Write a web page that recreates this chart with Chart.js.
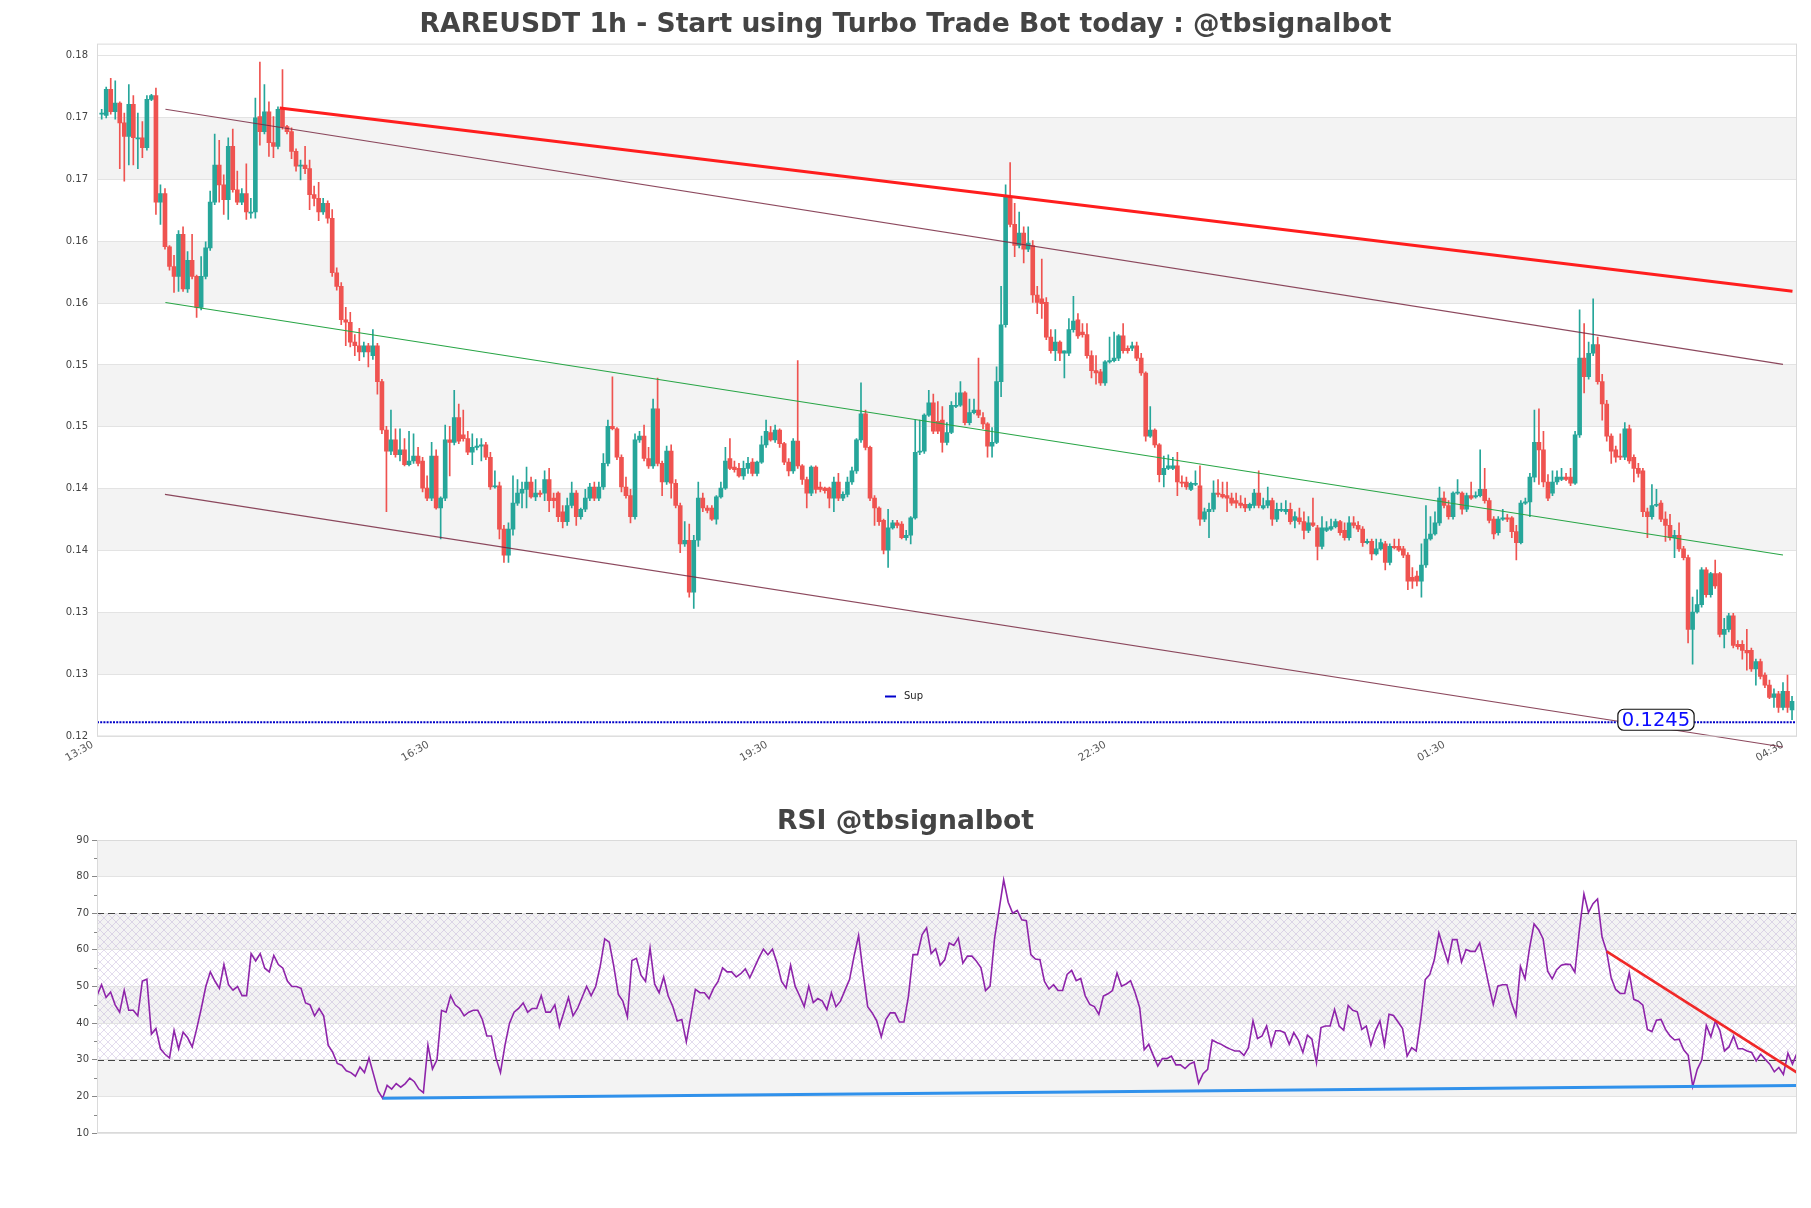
<!DOCTYPE html>
<html>
<head>
<meta charset="utf-8">
<script src="https://cdn.jsdelivr.net/npm/chart.js@4.4.1/dist/chart.umd.min.js"></script>
<style>
html,body{margin:0;padding:0;background:#fff;}
#wrap{position:relative;width:1811px;height:1208px;overflow:hidden;background:#fff;}
#c1{position:absolute;left:0;top:0;}
#c2{position:absolute;left:0;top:790px;}
</style>
</head>
<body>
<div id="wrap">
<canvas id="c1" width="1811" height="800"></canvas>
<canvas id="c2" width="1811" height="418"></canvas>
</div>
<script>
// ---------------- DATA ----------------
const opens = [
.1736,.1735,.1756,.1738,.1745,.1729,.1718,.1744,.1716,.1717,
.1709,.1748,.1751,.1665,.1672,.1629,.1613,.1605,.1639,.1595,
.1618,.1605,.1580,.1605,.1628,.1665,.1695,.1679,.1667,.1710,
.1675,.1665,.1672,.1656,.1657,.1734,.1722,.1738,.1713,.1710,
.1740,.1726,.1722,.1706,.1694,.1695,.1692,.1671,.1668,.1657,
.1664,.1652,.1608,.1597,.1570,.1568,.1552,.1549,.1544,.1549,
.1541,.1549,.1520,.1481,.1464,.1473,.1461,.1465,.1453,.1456,
.1460,.1456,.1434,.1426,.1460,.1418,.1426,.1473,.1471,.1491,
.1477,.1474,.1463,.1467,.1468,.1469,.1459,.1435,.1436,.1401,
.1380,.1401,.1422,.1430,.1433,.1439,.1427,.1430,.1430,.1441,
.1426,.1430,.1415,.1407,.1420,.1430,.1411,.1417,.1426,.1435,
.1426,.1435,.1454,.1484,.1482,.1459,.1435,.1428,.1411,.1473,
.1476,.1458,.1452,.1498,.1454,.1439,.1464,.1438,.1420,.1389,
.1392,.1350,.1392,.1426,.1418,.1418,.1409,.1427,.1434,.1458,
.1451,.1450,.1444,.1450,.1455,.1446,.1455,.1469,.1479,.1473,
.1481,.1470,.1455,.1448,.1472,.1452,.1441,.1430,.1451,.1435,
.1434,.1434,.1426,.1439,.1426,.1429,.1439,.1448,.1473,.1494,
.1467,.1426,.1418,.1408,.1384,.1402,.1406,.1405,.1394,.1396,
.1410,.1463,.1464,.1493,.1503,.1488,.1489,.1471,.1479,.1500,
.1501,.1511,.1487,.1495,.1497,.1491,.1486,.1468,.1471,.1520,
.1566,.1669,.1647,.1630,.1640,.1627,.1630,.1590,.1587,.1584,
.1556,.1545,.1552,.1543,.1543,.1562,.1570,.1560,.1558,.1541,
.1529,.1528,.1519,.1536,.1537,.1539,.1557,.1547,.1547,.1549,
.1539,.1527,.1476,.1481,.1469,.1445,.1450,.1450,.1452,.1439,
.1439,.1433,.1437,.1436,.1409,.1415,.1417,.1430,.1429,.1428,
.1426,.1424,.1422,.1421,.1418,.1420,.1430,.1418,.1420,.1424,
.1409,.1416,.1415,.1417,.1408,.1410,.1407,.1400,.1406,.1402,
.1387,.1400,.1401,.1403,.1407,.1400,.1394,.1406,.1404,.1401,
.1390,.1391,.1381,.1385,.1389,.1374,.1387,.1387,.1385,.1380,
.1362,.1363,.1359,.1372,.1393,.1397,.1406,.1426,.1420,.1411,
.1430,.1430,.1417,.1428,.1427,.1428,.1433,.1424,.1409,.1398,
.1409,.1410,.1410,.1399,.1390,.1422,.1423,.1443,.1471,.1465,
.1439,.1430,.1439,.1441,.1443,.1443,.1438,.1477,.1539,.1524,
.1543,.1550,.1520,.1502,.1476,.1465,.1460,.1459,.1482,.1459,
.1450,.1448,.1415,.1411,.1420,.1422,.1409,.1404,.1394,.1396,
.1385,.1378,.1320,.1334,.1340,.1368,.1348,.1365,.1365,.1316,
.1320,.1331,.1308,.1308,.1303,.1303,.1288,.1294,.1283,.1275,
.1265,.1268,.1257,.1270,.1255];

const highs = [
.1740,.1758,.1765,.1763,.1746,.1737,.1760,.1751,.1737,.1730,
.1751,.1752,.1757,.1679,.1676,.1630,.1622,.1642,.1645,.1625,
.1639,.1606,.1621,.1633,.1674,.1720,.1715,.1687,.1717,.1724,
.1690,.1676,.1696,.1668,.1749,.1778,.1760,.1746,.1734,.1742,
.1772,.1727,.1725,.1708,.1699,.1710,.1699,.1678,.1681,.1668,
.1666,.1659,.1612,.1600,.1580,.1576,.1558,.1563,.1552,.1551,
.1562,.1551,.1522,.1484,.1497,.1482,.1482,.1474,.1480,.1478,
.1467,.1459,.1444,.1471,.1465,.1427,.1485,.1484,.1513,.1502,
.1497,.1480,.1478,.1474,.1474,.1471,.1463,.1448,.1439,.1404,
.1406,.1444,.1441,.1439,.1451,.1443,.1441,.1432,.1448,.1450,
.1430,.1431,.1420,.1426,.1439,.1432,.1418,.1433,.1438,.1439,
.1439,.1462,.1489,.1524,.1483,.1461,.1443,.1433,.1478,.1480,
.1485,.1467,.1506,.1523,.1456,.1468,.1469,.1441,.1422,.1407,
.1405,.1396,.1439,.1430,.1420,.1420,.1428,.1439,.1467,.1474,
.1456,.1454,.1456,.1459,.1458,.1456,.1476,.1489,.1484,.1485,
.1482,.1471,.1458,.1474,.1537,.1453,.1443,.1452,.1452,.1439,
.1435,.1435,.1443,.1446,.1431,.1443,.1451,.1474,.1519,.1497,
.1468,.1428,.1419,.1409,.1417,.1408,.1408,.1407,.1400,.1411,
.1489,.1489,.1494,.1513,.1510,.1504,.1500,.1487,.1504,.1511,
.1520,.1512,.1506,.1506,.1539,.1495,.1487,.1483,.1532,.1597,
.1679,.1697,.1664,.1657,.1645,.1645,.1634,.1597,.1619,.1588,
.1562,.1562,.1553,.1545,.1571,.1589,.1575,.1567,.1567,.1545,
.1541,.1530,.1537,.1556,.1560,.1558,.1567,.1549,.1552,.1552,
.1543,.1528,.1500,.1482,.1470,.1460,.1461,.1459,.1463,.1444,
.1443,.1439,.1448,.1452,.1418,.1422,.1440,.1441,.1439,.1439,
.1430,.1430,.1428,.1426,.1422,.1433,.1448,.1426,.1435,.1426,
.1422,.1422,.1424,.1422,.1415,.1418,.1415,.1411,.1426,.1404,
.1411,.1407,.1409,.1409,.1408,.1406,.1411,.1411,.1407,.1403,
.1393,.1393,.1393,.1393,.1391,.1389,.1393,.1393,.1387,.1382,
.1370,.1367,.1389,.1420,.1411,.1415,.1435,.1431,.1424,.1431,
.1441,.1431,.1430,.1439,.1431,.1465,.1450,.1426,.1411,.1411,
.1417,.1413,.1411,.1404,.1424,.1426,.1446,.1497,.1498,.1480,
.1445,.1448,.1448,.1450,.1446,.1450,.1480,.1578,.1567,.1552,
.1587,.1556,.1526,.1505,.1478,.1468,.1478,.1487,.1485,.1461,
.1454,.1450,.1418,.1437,.1433,.1424,.1415,.1413,.1400,.1406,
.1387,.1380,.1346,.1352,.1370,.1370,.1366,.1376,.1366,.1329,
.1333,.1333,.1311,.1311,.1320,.1305,.1296,.1296,.1285,.1279,
.1272,.1270,.1277,.1283,.1266];

const lows = [
.1732,.1733,.1736,.1732,.1692,.1682,.1695,.1695,.1692,.1701,
.1707,.1747,.1655,.1647,.1627,.1610,.1592,.1593,.1593,.1592,
.1603,.1572,.1578,.1603,.1626,.1663,.1665,.1655,.1651,.1673,
.1663,.1663,.1651,.1652,.1652,.1711,.1720,.1702,.1701,.1708,
.1724,.1720,.1700,.1690,.1683,.1688,.1659,.1662,.1650,.1655,
.1648,.1605,.1594,.1566,.1549,.1548,.1541,.1537,.1540,.1532,
.1538,.1510,.1478,.1415,.1461,.1459,.1456,.1452,.1452,.1454,
.1452,.1431,.1424,.1424,.1417,.1393,.1424,.1444,.1469,.1470,
.1472,.1461,.1453,.1465,.1456,.1457,.1433,.1434,.1393,.1374,
.1374,.1396,.1420,.1418,.1418,.1426,.1424,.1427,.1424,.1415,
.1418,.1407,.1402,.1404,.1418,.1404,.1409,.1415,.1424,.1424,
.1424,.1433,.1452,.1481,.1457,.1431,.1426,.1406,.1409,.1471,
.1456,.1450,.1450,.1452,.1428,.1437,.1426,.1418,.1382,.1387,
.1346,.1337,.1387,.1415,.1414,.1408,.1405,.1426,.1433,.1449,
.1447,.1443,.1441,.1446,.1444,.1444,.1454,.1467,.1472,.1471,
.1467,.1453,.1444,.1446,.1450,.1437,.1418,.1428,.1430,.1431,
.1430,.1418,.1415,.1424,.1424,.1427,.1437,.1446,.1471,.1465,
.1424,.1404,.1404,.1381,.1370,.1401,.1402,.1393,.1392,.1389,
.1409,.1461,.1462,.1492,.1478,.1478,.1463,.1469,.1478,.1499,
.1500,.1485,.1485,.1494,.1491,.1482,.1459,.1459,.1470,.1508,
.1564,.1645,.1621,.1628,.1616,.1625,.1584,.1575,.1571,.1554,
.1543,.1537,.1537,.1523,.1541,.1560,.1555,.1556,.1539,.1523,
.1518,.1517,.1517,.1535,.1536,.1537,.1543,.1543,.1545,.1537,
.1525,.1472,.1475,.1467,.1439,.1435,.1449,.1449,.1428,.1435,
.1433,.1432,.1436,.1404,.1407,.1394,.1415,.1427,.1426,.1415,
.1420,.1418,.1418,.1415,.1416,.1418,.1418,.1417,.1418,.1404,
.1407,.1415,.1413,.1405,.1402,.1405,.1393,.1398,.1403,.1376,
.1385,.1399,.1400,.1402,.1396,.1392,.1392,.1402,.1399,.1387,
.1389,.1376,.1380,.1384,.1368,.1372,.1385,.1383,.1378,.1352,
.1353,.1355,.1346,.1370,.1392,.1396,.1404,.1418,.1409,.1409,
.1429,.1413,.1415,.1425,.1426,.1427,.1422,.1406,.1393,.1396,
.1408,.1407,.1394,.1376,.1389,.1421,.1411,.1439,.1437,.1435,
.1424,.1428,.1437,.1440,.1440,.1436,.1437,.1475,.1511,.1522,
.1541,.1518,.1489,.1472,.1454,.1455,.1457,.1457,.1454,.1439,
.1443,.1411,.1394,.1409,.1419,.1407,.1391,.1392,.1378,.1383,
.1376,.1309,.1292,.1333,.1338,.1346,.1346,.1353,.1314,.1305,
.1318,.1305,.1304,.1296,.1287,.1286,.1275,.1280,.1273,.1264,
.1257,.1253,.1255,.1253,.1247];

const closes = [
.1737,.1756,.1738,.1745,.1729,.1718,.1744,.1717,.1717,.1709,
.1748,.1751,.1665,.1672,.1629,.1613,.1605,.1639,.1595,.1618,
.1605,.1580,.1605,.1628,.1665,.1695,.1679,.1667,.1710,.1675,
.1665,.1672,.1657,.1657,.1733,.1722,.1738,.1713,.1710,.1740,
.1726,.1722,.1706,.1694,.1695,.1692,.1671,.1668,.1657,.1664,
.1652,.1608,.1597,.1570,.1568,.1552,.1549,.1544,.1549,.1544,
.1549,.1520,.1481,.1464,.1473,.1461,.1465,.1453,.1456,.1460,
.1454,.1434,.1426,.1460,.1418,.1426,.1473,.1471,.1491,.1472,
.1474,.1463,.1467,.1468,.1469,.1459,.1435,.1436,.1401,.1380,
.1401,.1422,.1430,.1433,.1439,.1427,.1430,.1429,.1441,.1424,
.1424,.1411,.1407,.1420,.1430,.1411,.1417,.1426,.1435,.1426,
.1435,.1454,.1484,.1482,.1459,.1435,.1428,.1411,.1473,.1476,
.1458,.1452,.1498,.1454,.1439,.1464,.1438,.1420,.1389,.1392,
.1350,.1392,.1426,.1418,.1416,.1409,.1427,.1434,.1456,.1450,
.1449,.1444,.1450,.1454,.1446,.1455,.1469,.1480,.1473,.1481,
.1470,.1455,.1448,.1472,.1452,.1441,.1430,.1451,.1433,.1433,
.1432,.1426,.1439,.1426,.1429,.1439,.1448,.1473,.1494,.1467,
.1426,.1418,.1407,.1384,.1402,.1406,.1404,.1394,.1396,.1410,
.1463,.1464,.1493,.1503,.1480,.1480,.1471,.1479,.1501,.1501,
.1511,.1487,.1495,.1497,.1493,.1486,.1468,.1471,.1520,.1566,
.1669,.1647,.1630,.1640,.1627,.1632,.1590,.1584,.1583,.1556,
.1545,.1552,.1543,.1545,.1562,.1569,.1557,.1558,.1541,.1529,
.1527,.1519,.1536,.1537,.1539,.1557,.1545,.1545,.1549,.1539,
.1527,.1476,.1481,.1469,.1445,.1450,.1452,.1452,.1439,.1438,
.1435,.1438,.1438,.1409,.1415,.1417,.1430,.1429,.1427,.1426,
.1422,.1422,.1420,.1418,.1421,.1430,.1420,.1420,.1424,.1409,
.1417,.1417,.1417,.1407,.1411,.1407,.1400,.1406,.1404,.1387,
.1402,.1402,.1403,.1407,.1398,.1394,.1406,.1404,.1401,.1390,
.1391,.1381,.1385,.1390,.1374,.1387,.1386,.1384,.1380,.1359,
.1359,.1359,.1372,.1393,.1397,.1406,.1426,.1420,.1411,.1430,
.1430,.1417,.1428,.1426,.1428,.1433,.1424,.1408,.1397,.1409,
.1410,.1409,.1399,.1390,.1422,.1423,.1443,.1471,.1465,.1439,
.1426,.1439,.1443,.1443,.1441,.1438,.1477,.1539,.1524,.1543,
.1550,.1520,.1502,.1476,.1464,.1459,.1459,.1482,.1456,.1450,
.1446,.1415,.1411,.1420,.1421,.1409,.1404,.1394,.1396,.1385,
.1378,.1320,.1334,.1340,.1368,.1348,.1365,.1355,.1316,.1320,
.1331,.1307,.1306,.1303,.1301,.1288,.1294,.1282,.1275,.1265,
.1268,.1257,.1270,.1257,.1262];

const rsiValues = [
47.5,50.5,47,48.5,45,43,49,43.5,43.5,42,
51.5,52,37,38.5,33,31.5,30.5,38,33,37.5,
36,33.5,38.5,44,50,54,51.5,49.5,56,50.5,
49,50,47.5,47.5,59,57,59,55,54,58.5,
56,55,51.5,50,50,49.5,45.5,45,42,44,
42,34,32,29,28.5,27,26.5,25.5,28,26.5,
30.5,26,21.5,19.5,23,22,23.5,22.5,23.5,25,
24,22,21,34,27.5,30,43.5,43,47.5,45,
44,42,43,43.5,43.5,41,36.5,36.5,30.5,26.5,
34,40,43,44,45.5,43,44,44,47.5,43,
43,45,39,43,47,42,44,47,50,47.5,
50,
55.5,63.0,62.1,55.5,47.8,46.0,41.7,57.1,57.7,53.1,
51.4,60.5,50.7,48.3,52.6,47.4,44.6,40.6,41.0,34.9,
41.9,49.2,48.3,48.3,46.7,49.5,51.4,55.1,54.0,54.0,
52.6,53.5,54.8,52.4,55.1,57.8,60.2,58.7,60.2,56.4,
51.4,49.6,55.8,50.1,47.4,44.5,50.1,45.6,46.7,46.0,
43.7,48.3,44.5,46.0,49.0,51.9,58.3,63.9,53.7,44.5,
42.8,40.6,36.3,41.0,42.8,42.8,40.3,40.3,47.4,58.7,
58.7,64.1,66.0,59.0,60.3,55.8,57.3,61.9,61.2,63.2,
56.4,58.3,58.3,56.9,55.1,48.9,50.1,63.2,71.0,79.1,
73.0,70.0,70.8,68.2,68.0,58.7,57.5,57.3,51.4,49.3,
50.5,48.9,48.9,53.3,54.4,51.6,52.2,47.4,45.1,44.5,
42.4,47.4,48.0,48.9,53.7,50.1,50.7,51.6,48.3,44.2,
32.7,34.2,31.2,28.3,30.3,30.3,31.0,28.6,28.6,27.6,
28.8,29.4,23.6,26.2,27.4,35.4,34.7,
34.2,33.5,32.9,32.4,32.4,31.2,33.3,40.6,35.8,36.5,
39.2,33.8,37.9,37.9,37.4,34.2,37.4,35.4,32.0,36.7,
35.6,29.2,38.8,39.2,39.2,43.7,39.2,38.1,44.8,43.5,
43.1,38.3,39.2,33.9,37.9,40.6,34.0,42.4,42.1,40.3,
38.5,31.0,33.3,32.4,41.0,51.9,53.3,57.3,64.6,60.5,
56.6,62.8,62.8,56.7,60.1,59.6,59.6,61.9,56.4,50.5,
45.1,50.1,50.5,50.5,45.6,42.1,55.5,52.1,60.5,67.1,
65.5,63.0,54.2,52.1,54.6,55.8,56.1,56.0,53.9,65.5,
75.3,70.2,72.6,73.9,63.5,59.6,52.4,49.2,48.1,48.1,
53.7,46.5,46.0,44.9,38.3,37.7,40.8,41.0,38.3,36.5,
35.4,35.6,32.7,31.2,22.7,27.4,29.9,39.4,36.3,40.6,
37.9,32.4,33.5,36.5,33.0,33.0,32.4,32.0,29.7,31.5,
30.1,28.8,26.7,27.9,26.0,31.8,28.8,31.8];

// axis ticks
const yTickValues = [0.12335,0.12835,0.13335,0.13835,0.14335,0.14835,0.15335,0.15835,0.16335,0.16835,0.17335,0.17835];
const yTickLabels = ['0.12','0.13','0.13','0.14','0.14','0.15','0.15','0.16','0.16','0.17','0.17','0.18'];
const xTickIndex = [-2.0, 72.3, 147.2, 222.1, 297.1, 372.0];
const xTickLabels = ['13:30','16:30','19:30','22:30','01:30','04:30'];
const rsiTicks = [10,20,30,40,50,60,70,80,90];

// levels and trend lines (index, value)
const supLevel = 0.1245;
const resistanceLine = [[39.4,0.1741],[374.1,0.1593]];
const channelUpper = [[14.1,0.1740],[372.0,0.1534]];
const channelMiddle = [[14.1,0.1584],[372.0,0.1380]];
const channelLower = [[14.0,0.1429],[372.0,0.1225]];
const rsiSupportLine = [[63,19.5],[375,23.0]];
const rsiResistanceLine = [[333,59.6],[375,26.5]];
const rsiUpper = 70, rsiLower = 30;

// ---------------- CHART 1 ----------------
Chart.defaults.font.family = '"DejaVu Sans", sans-serif';
Chart.defaults.font.size = 10;
Chart.defaults.color = '#444';

const GREEN = '#26a69a', RED = '#ef5350';
const candleColors = opens.map((o,i) => closes[i] >= o ? GREEN : RED);
const pts = arr => arr.map(p => ({x:p[0], y:p[1]}));

const mainPlugin = {
  id: 'mainDecor',
  beforeDraw(chart) {
    const {ctx, chartArea:a, scales:{y}} = chart;
    ctx.save();
    ctx.fillStyle = '#f3f3f3';
    for (let k = 1; k + 1 < yTickValues.length; k += 2) {
      const t = y.getPixelForValue(yTickValues[k+1]);
      const b = y.getPixelForValue(yTickValues[k]);
      ctx.fillRect(a.left, t, a.right - a.left, b - t);
    }
    ctx.restore();
  },
  afterDraw(chart) {
    const {ctx, chartArea:a, scales:{x, y}} = chart;
    ctx.save();
    ctx.strokeStyle = '#dadada'; ctx.lineWidth = 1;
    ctx.strokeRect(a.left + 0.5, a.top + 0.5, a.right - a.left - 1, a.bottom - a.top - 1);
    // level label
    const px = x.getPixelForValue(343.9), py = y.getPixelForValue(supLevel) - 2.5;
    ctx.font = '19.5px "DejaVu Sans"';
    const txt = supLevel.toFixed(4);
    const w = ctx.measureText(txt).width + 8, h = 21;
    ctx.beginPath();
    ctx.roundRect(px - w/2, py - h/2, w, h, 6);
    ctx.fillStyle = '#fff'; ctx.fill();
    ctx.strokeStyle = '#111'; ctx.lineWidth = 1.2; ctx.stroke();
    ctx.fillStyle = '#0a0aff'; ctx.textAlign = 'center'; ctx.textBaseline = 'middle';
    ctx.fillText(txt, px, py + 1);
    // legend
    const ly = a.bottom - 40;
    ctx.strokeStyle = '#0000cc'; ctx.lineWidth = 2;
    ctx.beginPath(); ctx.moveTo(a.left + 788, ly); ctx.lineTo(a.left + 799, ly); ctx.stroke();
    ctx.font = '10px "DejaVu Sans"'; ctx.fillStyle = '#222'; ctx.textAlign = 'left';
    ctx.fillText('Sup', a.left + 807, ly);
    ctx.restore();
  }
};

const lineDs = (arr, color, width, extra) => Object.assign({
  type:'line', data: pts(arr), borderColor: color, borderWidth: width,
  pointRadius: 0, fill: false, tension: 0, order: 0
}, extra || {});

new Chart(document.getElementById('c1'), {
  type: 'bar',
  data: {
    datasets: [
      lineDs([[-1.04, supLevel],[375.1, supLevel]], '#0000c8', 2.2, {borderDash:[2,1.2]}),
      lineDs(resistanceLine, '#ff1e1e', 3),
      lineDs(channelUpper, 'rgba(120,40,65,0.85)', 1.2),
      lineDs(channelMiddle, 'rgb(40,165,70)', 1.1),
      lineDs(channelLower, 'rgba(120,40,65,0.85)', 1.2, {clip: false}),
      { type:'bar', data: opens.map((o,i) => ({x:i, y:[o, closes[i]]})),
        backgroundColor: candleColors, borderWidth: 0, barThickness: 4, minBarLength: 1,
        grouped: false, order: 1 },
      { type:'bar', data: lows.map((l,i) => ({x:i, y:[l, highs[i]]})),
        backgroundColor: candleColors, borderWidth: 0, barThickness: 1,
        grouped: false, order: 2 }
    ]
  },
  options: {
    responsive: false, animation: false, devicePixelRatio: 1,
    layout: { padding: { left: 14, right: 14, top: 0, bottom: 0 } },
    plugins: {
      legend: { display: false }, tooltip: { enabled: false },
      title: { display: true, text: 'RAREUSDT 1h - Start using Turbo Trade Bot today : @tbsignalbot',
        font: { size: 26.6, weight: 'bold', family: '"DejaVu Sans"' }, color: '#444',
        padding: { top: 9.3, bottom: 2.4 } }
    },
    scales: {
      x: {
        type: 'linear', min: -1.04, max: 375.1, offset: false,
        grid: { display: false, offset: false },
        border: { display: false },
        afterBuildTicks: s => { s.ticks = xTickIndex.map(v => ({value: v})); },
        ticks: { autoSkip: false, maxRotation: 30, minRotation: 30, padding: -6, color: '#555',
                 font: { size: 10.5 }, callback: (v, i) => xTickLabels[i] },
        afterFit: s => { s.height = 63.5; }
      },
      y: {
        min: 0.12335, max: 0.1793,
        afterBuildTicks: s => { s.ticks = yTickValues.map(v => ({value: v})); },
        ticks: { color: '#444', font: { size: 10 }, padding: 9, callback: (v, i) => yTickLabels[i] },
        grid: { color: '#e3e3e3', drawTicks: false },
        border: { display: false },
        afterFit: s => { s.width = 83; }
      }
    }
  },
  plugins: [mainPlugin]
});

// ---------------- CHART 2 (RSI) ----------------
const rsiPlugin = {
  id: 'rsiDecor',
  beforeDraw(chart) {
    const {ctx, chartArea:a, scales:{y}} = chart;
    ctx.save();
    ctx.fillStyle = '#f3f3f3';
    [[80,90],[60,70],[40,50],[20,30]].forEach(([lo,hi]) => {
      const t = y.getPixelForValue(hi), b = y.getPixelForValue(lo);
      ctx.fillRect(a.left, t, a.right - a.left, b - t);
    });
    const tile = document.createElement('canvas'); tile.width = 8; tile.height = 8;
    const g = tile.getContext('2d');
    g.strokeStyle = 'rgba(175,155,205,0.5)'; g.lineWidth = 0.7;
    g.beginPath(); g.moveTo(0,0); g.lineTo(8,8); g.moveTo(8,0); g.lineTo(0,8); g.stroke();
    ctx.fillStyle = ctx.createPattern(tile, 'repeat');
    const t = y.getPixelForValue(rsiUpper), b = y.getPixelForValue(rsiLower);
    ctx.fillRect(a.left, t, a.right - a.left, b - t);
    ctx.restore();
  },
  beforeDatasetsDraw(chart) {
    const {ctx, chartArea:a, scales:{y}} = chart;
    ctx.save();
    ctx.strokeStyle = '#444'; ctx.lineWidth = 1.2; ctx.setLineDash([7,4]);
    [rsiUpper, rsiLower].forEach(v => {
      const py = Math.round(y.getPixelForValue(v)) + 0.5;
      ctx.beginPath(); ctx.moveTo(a.left, py); ctx.lineTo(a.right, py); ctx.stroke();
    });
    ctx.restore();
  },
  afterDraw(chart) {
    const {ctx, chartArea:a, scales:{y}} = chart;
    ctx.save();
    ctx.strokeStyle = '#dadada'; ctx.lineWidth = 1;
    ctx.strokeRect(a.left + 0.5, a.top + 0.5, a.right - a.left - 1, a.bottom - a.top - 1);
    ctx.strokeStyle = '#888';
    for (let v = 15; v < 90; v += 10) {
      const py = Math.round(y.getPixelForValue(v)) + 0.5;
      ctx.beginPath(); ctx.moveTo(a.left - 3, py); ctx.lineTo(a.left, py); ctx.stroke();
    }
    ctx.restore();
  }
};

new Chart(document.getElementById('c2'), {
  type: 'line',
  data: {
    datasets: [
      { data: pts(rsiSupportLine), borderColor: 'rgb(48,145,235)', borderWidth: 3, pointRadius: 0, order: 0 },
      { data: pts(rsiResistanceLine), borderColor: 'rgb(240,40,40)', borderWidth: 2.5, pointRadius: 0, order: 0 },
      { data: rsiValues.map((v,i) => ({x:i, y:v})), borderColor: '#8e24aa', borderWidth: 1.6,
        pointRadius: 0, tension: 0, order: 1 }
    ]
  },
  options: {
    responsive: false, animation: false, devicePixelRatio: 1,
    layout: { padding: { left: 14, right: 14, top: 0, bottom: 75 } },
    plugins: {
      legend: { display: false }, tooltip: { enabled: false },
      title: { display: true, text: 'RSI @tbsignalbot',
        font: { size: 26.6, weight: 'bold', family: '"DejaVu Sans"' }, color: '#444',
        padding: { top: 16.3, bottom: 1.8 } }
    },
    scales: {
      x: { type: 'linear', min: 0, max: 375, display: false },
      y: {
        min: 10, max: 90,
        afterBuildTicks: s => { s.ticks = rsiTicks.map(v => ({value: v})); },
        ticks: { color: '#444', font: { size: 10 }, padding: 3 },
        grid: { color: '#e3e3e3', tickColor: '#888', tickLength: 5 },
        border: { display: false },
        afterFit: s => { s.width = 83; }
      }
    }
  },
  plugins: [rsiPlugin]
});
</script>
</body>
</html>
